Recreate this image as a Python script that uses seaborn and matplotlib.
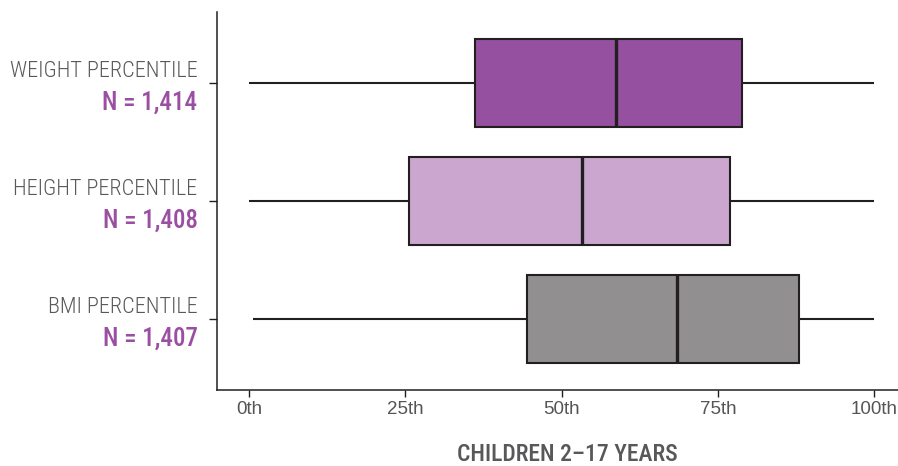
import numpy as np
import pandas as pd
import seaborn as sns
import matplotlib.pyplot as plt
import matplotlib.transforms as mtrans

# five-number summaries (min, q1, median, q3, max)
measures = ['WEIGHT PERCENTILE', 'HEIGHT PERCENTILE', 'BMI PERCENTILE']
n_labels = ['N = 1,414', 'N = 1,408', 'N = 1,407']
weight_vals = [0, 36.2, 58.7, 78.9, 100]
height_vals = [0, 25.6, 53.3, 77.0, 100]
bmi_vals = [0.6, 44.5, 68.5, 87.9, 100]
box_colors = ['#95519F', '#CBA7CF', '#918F90']
xtick_vals = [0, 25, 50, 75, 100]
xtick_labels = ['0th', '25th', '50th', '75th', '100th']

df = pd.DataFrame({
    'measure': np.repeat(measures, 5),
    'value': weight_vals + height_vals + bmi_vals,
})

sns.set_style('white')
cond = ['Roboto Condensed', 'IBM Plex Sans Condensed', 'Liberation Sans', 'DejaVu Sans']
plt.rcParams['font.family'] = cond

fig = plt.figure(figsize=(8.98, 4.66), dpi=100)
ax = fig.add_axes([0.242, 0.163, 0.758, 0.8106])

dark = '#231F20'
sns.boxplot(data=df, x='value', y='measure', hue='measure', palette=box_colors,
            order=measures, hue_order=measures, legend=False, whis=(0, 100),
            showcaps=False, width=0.75, linewidth=1.5, linecolor=dark,
            saturation=1, medianprops=dict(linewidth=2.4, color=dark), ax=ax)

ax.set_xlim(-5.07, 103.8)
ax.set_ylim(2.6, -0.6)
ax.set_xticks(xtick_vals)
ax.set_xticklabels(xtick_labels, family=['Liberation Sans', 'DejaVu Sans'],
                   fontsize=13.5, color='#555555')
ax.set_yticks(range(len(measures)))
ax.set_yticklabels([])
ax.tick_params(axis='x', length=5, width=1, color=dark, pad=3, bottom=True)
ax.tick_params(axis='y', length=6, width=1, color=dark, left=True)
ax.set_xlabel('')
ax.set_ylabel('')

sns.despine(ax=ax)
for s in ['left', 'bottom']:
    ax.spines[s].set_color(dark)
    ax.spines[s].set_linewidth(1.1)

# two-line category labels: name in gray, sample size in purple
trans = mtrans.blended_transform_factory(ax.transAxes, ax.transData)
for i, (name, n) in enumerate(zip(measures, n_labels)):
    ax.text(-0.029, i - 0.10, name, transform=trans, ha='right', va='center',
            fontsize=16, color='#58585A', fontweight='light')
    ax.text(-0.029, i + 0.165, n, transform=trans, ha='right', va='center',
            fontsize=18, color='#9B4FA2', fontweight='medium')

fig.text(0.632, 0.025, 'CHILDREN 2\u201317 YEARS', ha='center', va='center',
         fontsize=17, color='#58585A', fontweight='medium')

fig.savefig('out.png', dpi=100)
